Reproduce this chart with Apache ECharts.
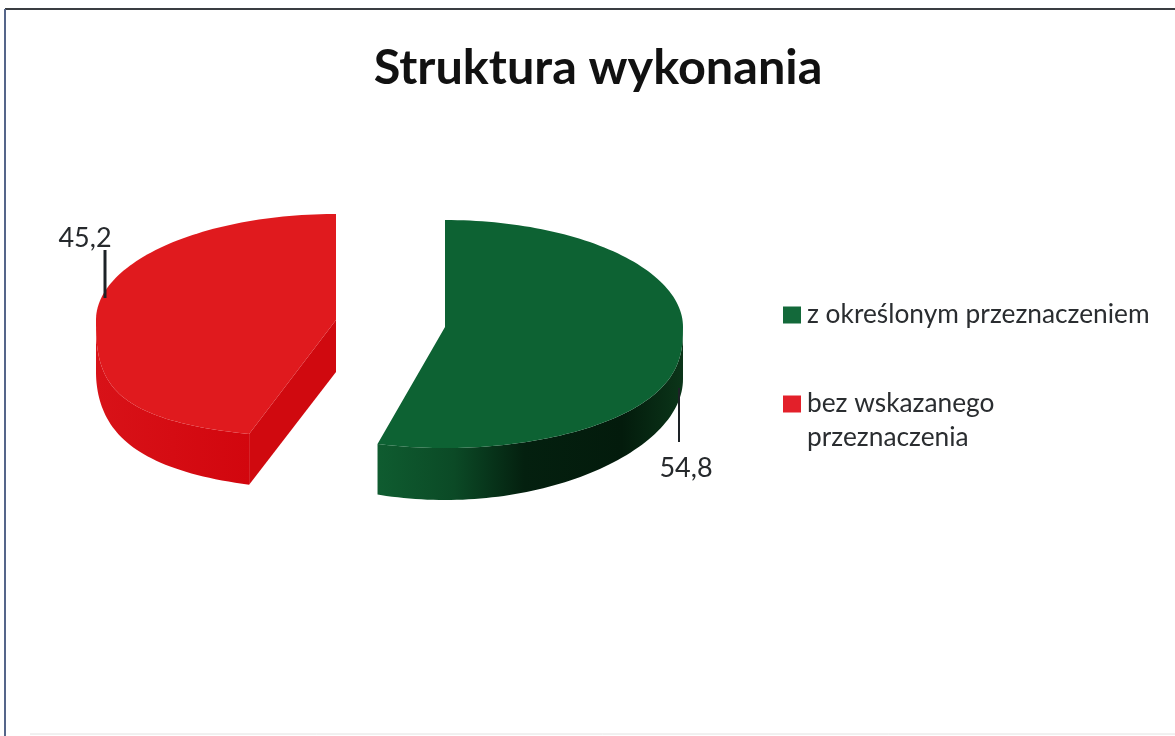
<!DOCTYPE html>
<html>
<head>
<meta charset="utf-8">
<title>Struktura wykonania</title>
<style>
    html, body { margin: 0; padding: 0; background: #fff; }
    #chart { width: 1175px; height: 736px; }
</style>
<script src="https://cdn.jsdelivr.net/npm/echarts@6/dist/echarts.min.js"></script>
</head>
<body>
<div id="chart"></div>
<script>
// 数据
const categories = ['z określonym przeznaczeniem', 'bez wskazanego\nprzeznaczenia']
const values = [54.8, 45.2]

// 样式：顶面 / 侧面颜色
const topColors = ['#0d6233', '#e01a1e']
const legendColors = ['#13693a', '#e3202a']
const sideStops = [
    [[0, '#0f5c30'], [0.25, '#0b4a26'], [0.48, '#04200f'], [0.8, '#031b0c'], [1, '#0b3519']],
    [[0, '#d81218'], [1, '#d2060e']]
]
const cutColors = ['#0c5029', '#d0090f']

// 每个扇区的位置（分离饼图）
const layouts = [
    { cx: 445, cy: 327, rx: 238, ryTop: 107, ryBottom: 121, spread: -0.05, labelX: 686, labelY: 468, lineX: 679, lineFrom: 388, lineTo: 442, lineWidth: 2 },
    { cx: 336, cy: 320, rx: 240, ryTop: 106, ryBottom: 118, spread: 0.24, labelX: 85, labelY: 238, lineX: 105, lineFrom: 250, lineTo: 298, lineWidth: 3 }
]
const depth = 52
// 透视：顶面靠近观察者的一侧更饱满，侧面因此变薄
const seamPower = 0.75
const total = values.reduce((a, b) => a + b, 0)

// 椭圆上的点，angle 从正上方顺时针；isBottom 为底面轮廓
function ellipsePoint(l, angle, isBottom) {
    let rad = angle * Math.PI / 180
    let c = -Math.cos(rad)
    let k = c > 0 ? 1 + l.spread * c * c : 1
    let x = l.cx + Math.sin(rad) * l.rx * k
    if (c <= 0) {
        return [x, l.cy + c * l.ryTop + (isBottom ? depth : 0)]
    }
    if (isBottom) {
        return [x, l.cy + c * l.ryBottom + depth]
    }
    return [x, l.cy + Math.pow(c, seamPower) * l.ryBottom]
}

function arcPoints(l, from, to, isBottom) {
    let pts = []
    for (let a = from; a < to; a += 1.5) {
        pts.push(ellipsePoint(l, a, isBottom))
    }
    pts.push(ellipsePoint(l, to, isBottom))
    return pts
}

function renderSlice(index, startValue, params, api) {
    let l = layouts[index]
    let from = startValue / total * 360
    let to = (startValue + api.value(0)) / total * 360
    let children = []

    // 侧面
    let sideFrom = Math.max(from, 90)
    let sideTo = Math.min(to, 270)
    if (sideTo > sideFrom) {
        let upper = arcPoints(l, sideFrom, sideTo, false)
        let lower = arcPoints(l, sideFrom, sideTo, true).reverse()
        children.push({
            type: 'polygon',
            shape: { points: upper.concat(lower) },
            style: {
                fill: new echarts.graphic.LinearGradient(0, 0, 1, 0, sideStops[index].map(s => ({ offset: s[0], color: s[1] })))
            }
        })
    }
    // 切面（只有左侧扇区能看到）
    if (to >= 360) {
        let tip = ellipsePoint(l, from, false)
        let tipBottom = ellipsePoint(l, from, true)
        children.push({
            type: 'polygon',
            shape: { points: [[l.cx, l.cy], tip, tipBottom, [l.cx, l.cy + depth]] },
            style: { fill: cutColors[index] }
        })
    }
    // 顶面
    children.push({
        type: 'polygon',
        shape: { points: [[l.cx, l.cy]].concat(arcPoints(l, from, to, false)) },
        style: { fill: topColors[index] }
    })
    // 引导线和数值
    children.push({
        type: 'line',
        shape: { x1: l.lineX, y1: l.lineFrom, x2: l.lineX, y2: l.lineTo },
        style: { stroke: '#1d2226', lineWidth: l.lineWidth }
    })
    children.push({
        type: 'text',
        style: {
            x: l.labelX,
            y: l.labelY,
            text: String(api.value(0)).replace('.', ','),
            fill: '#26292c',
            font: '27px Lato',
            align: 'center',
            verticalAlign: 'middle'
        }
    })
    return { type: 'group', children: children }
}

let startValue = 0
const seriesList = categories.map((name, index) => {
    let start = startValue
    startValue += values[index]
    return {
        type: 'custom',
        name: name,
        coordinateSystem: 'none',
        silent: true,
        animation: false,
        itemStyle: { color: legendColors[index] },
        data: [[values[index]]],
        renderItem: (params, api) => renderSlice(index, start, params, api)
    }
})

const myChart = echarts.init(document.getElementById('chart'))
myChart.setOption({
    animation: false,
    backgroundColor: '#fff',
    title: {
        text: 'Struktura wykonania',
        left: 593,
        top: 39,
        textAlign: 'center',
        textStyle: { fontFamily: 'Lato', fontSize: 48.6, fontWeight: 'bold', color: '#111' }
    },
    legend: {
        orient: 'vertical',
        left: 778,
        top: 293,
        itemWidth: 18,
        itemHeight: 17,
        itemGap: 21,
        icon: 'rect',
        selectedMode: false,
        data: categories,
        // 多行文字时让色块对齐第一行
        formatter: name => (name.indexOf('\n') > -1 ? '\n' + name : name),
        textStyle: { fontFamily: 'Lato', fontSize: 26.3, lineHeight: 34, color: '#2a2d30', padding: [0, 0, 0, 1] }
    },
    graphic: [
        { type: 'line', silent: true, shape: { x1: 5, y1: 9, x2: 1175, y2: 9 }, style: { stroke: '#3a3d42', lineWidth: 2 } },
        { type: 'line', silent: true, shape: { x1: 5, y1: 9, x2: 5, y2: 736 }, style: { stroke: '#55658a', lineWidth: 2 } },
        { type: 'line', silent: true, shape: { x1: 30, y1: 734, x2: 1175, y2: 734 }, style: { stroke: '#e2e2e2', lineWidth: 1 } }
    ],
    series: seriesList
})
</script>
</body>
</html>
